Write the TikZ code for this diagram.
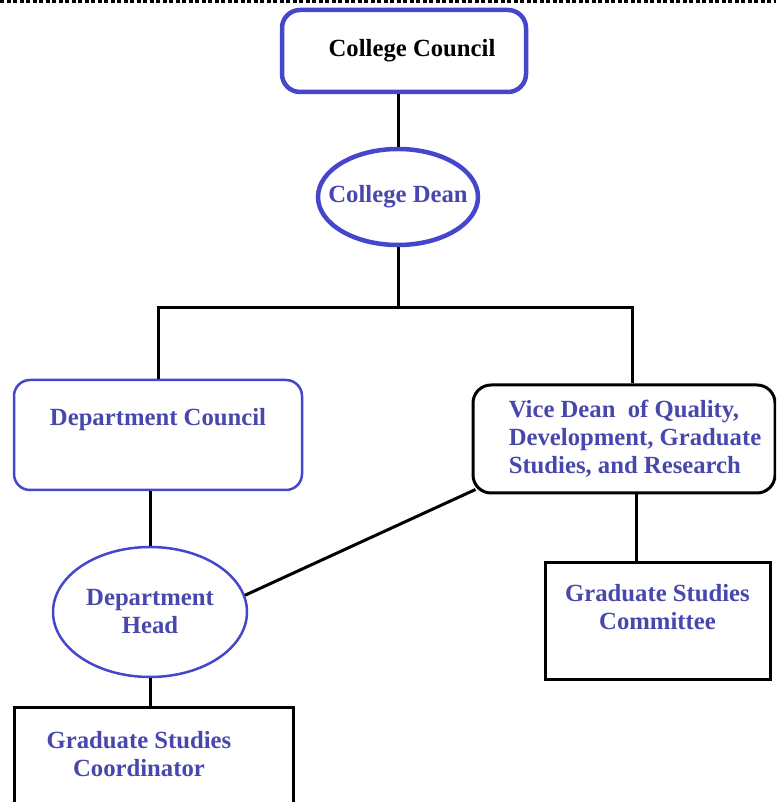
\documentclass[tikz,border=0pt]{standalone}
\usepackage{fontspec}
\setmainfont{Liberation Serif}
\usetikzlibrary{shapes.geometric}
\definecolor{orgblue}{RGB}{70,70,205}
\definecolor{orgtext}{RGB}{72,72,172}

\begin{document}
\begin{tikzpicture}[x=1pt,y=1pt,font=\bfseries\fontsize{24.7}{28}\selectfont]

% canvas
\useasboundingbox (0,0) rectangle (776,802);
\clip (0,0) rectangle (776,802);
\fill[white] (0,0) rectangle (776,802);

% dashed rule along the top edge
\draw[black,line width=2.4pt,dash pattern=on 4pt off 2.5pt] (0,800.5) -- (776,800.5);

\tikzset{
  topbox/.style={
    draw=orgblue,
    line width=4.5pt,
    rounded corners=18pt,
    minimum width=244pt,
    minimum height=82pt,
    inner sep=0pt,
    text=black
  },
  topoval/.style={
    ellipse,
    draw=orgblue,
    line width=4.5pt,
    minimum width=160pt,
    minimum height=96pt,
    inner xsep=-20pt,
    inner ysep=0pt,
    text=orgtext
  },
  softbox/.style={
    draw=orgblue,
    line width=2.5pt,
    rounded corners=16pt
  },
  softoval/.style={
    ellipse,
    draw=orgblue,
    line width=2.5pt,
    inner sep=0pt,
    text=orgtext,
    align=center
  },
  hardbox/.style={
    draw=black,
    line width=3pt,
    rounded corners=18pt
  },
  plainbox/.style={
    draw=black,
    line width=3pt
  },
  boxtext/.style={
    text=orgtext,
    align=center
  },
  link/.style={
    draw=black,
    line width=3pt
  }
}

% top of the chart
\node[topbox] (council) at (404,751) {\hspace*{16pt}College Council};
\node[topoval] (dean) at (398,605) {College Dean};

% split point below the dean
\coordinate (fork) at (398,494);

% second level
\node[softbox,minimum width=288pt,minimum height=110pt] (dcouncil) at (158,367) {};
\node[boxtext,yshift=15pt] at (dcouncil.center) {Department Council};

\node[hardbox,minimum width=302pt,minimum height=108pt] (vdean) at (624,363) {};
\node[boxtext,align=left,xshift=11pt] at (vdean.center)
  {Vice Dean~ of Quality,\\Development, Graduate\\Studies, and Research};

% third level
\node[softoval,minimum width=194pt,minimum height=130pt] (dhead) at (150,190)
  {Department\\Head};

\node[plainbox,minimum width=225pt,minimum height=117pt] (gscomm) at (657.5,180.5) {};
\node[boxtext,yshift=14pt] at (gscomm.center) {Graduate Studies\\Committee};

% bottom box runs past the lower edge
\node[plainbox,minimum width=279pt,minimum height=140pt] (gscoord) at (153.5,24) {};
\node[boxtext,xshift=-14.5pt,yshift=24pt] at (gscoord.center) {Graduate Studies\\Coordinator};

% connectors
\draw[link] (dean.north |- council.south) -- (dean.north);
\draw[link] (dean.south) -- (fork);
\draw[link] (fork) -| (dcouncil.north);
\draw[link] (fork) -| ([xshift=8pt]vdean.north);
\draw[link] (dhead.north |- dcouncil.south) -- (dhead.north);
\draw[link] (dhead.10) -- ([shift={(4pt,5pt)}]vdean.south west);
\draw[link] ([xshift=12pt]vdean.south) -- ([xshift=12pt]vdean.south |- gscomm.north);
\draw[link] (dhead.south) -- (dhead.south |- gscoord.north);

\end{tikzpicture}
\end{document}
